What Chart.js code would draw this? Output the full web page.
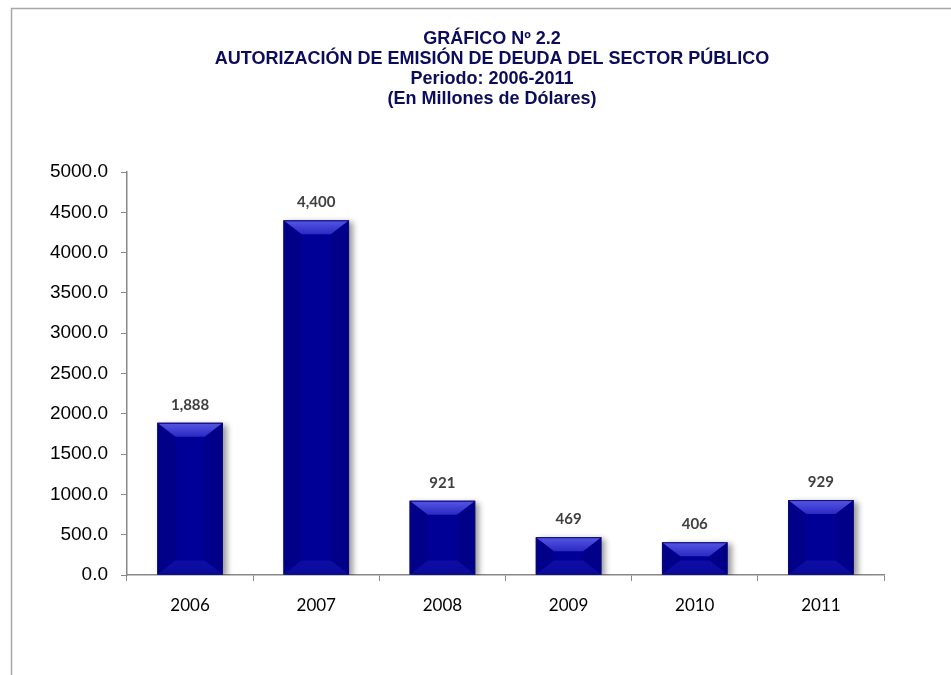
<!DOCTYPE html>
<html>
<head>
<meta charset="utf-8">
<script src="https://cdn.jsdelivr.net/npm/chart.js@4.4.1/dist/chart.umd.min.js"></script>
<style>
  html, body { margin: 0; padding: 0; background: #fff; }
  #wrap { width: 951px; height: 675px; position: relative; }
</style>
</head>
<body>
<div id="wrap"><canvas id="deuda"></canvas></div>
<script>
const years = ["2006", "2007", "2008", "2009", "2010", "2011"];
const amounts = [1888, 4400, 921, 469, 406, 929];
const titleLines = [
  "GRÁFICO Nº 2.2",
  "AUTORIZACIÓN DE EMISIÓN DE DEUDA DEL SECTOR PÚBLICO",
  "Periodo: 2006-2011",
  "(En Millones de Dólares)",
];
const yMin = 0;
const yMax = 5000;
const yStep = 500;

const deuda = document.getElementById("deuda");

// frame lines (top and left only, as in the original) + the title block
const framePlugin = {
  id: "frame",
  beforeDraw: function (chart) {
    const c = chart.ctx;
    c.save();
    c.strokeStyle = "#a6a6a6";
    c.lineWidth = 1.5;
    c.beginPath();
    c.moveTo(951, 8.5);
    c.lineTo(11.5, 8.5);
    c.lineTo(11.5, 675);
    c.stroke();

    c.fillStyle = "#0c0c5c";
    c.font = "bold 18px Arial, 'Liberation Sans', sans-serif";
    c.textAlign = "center";
    c.textBaseline = "middle";
    for (var i = 0; i < titleLines.length; i++) {
      c.fillText(titleLines[i], 492, 39 + i * 20);
    }
    c.restore();
  },
};

// shadow behind the bars
const shadowPlugin = {
  id: "barShadow",
  beforeDatasetDraw: function (chart) {
    const c = chart.ctx;
    c.save();
    c.shadowColor = "rgba(0,0,0,0.4)";
    c.shadowBlur = 6;
    c.shadowOffsetX = 4;
    c.shadowOffsetY = 2;
  },
  afterDatasetDraw: function (chart) {
    chart.ctx.restore();
  },
};

// bevel on top and bottom of each bar + value labels
const bevelPlugin = {
  id: "bevel",
  afterDatasetsDraw: function (chart) {
    const c = chart.ctx;
    const meta = chart.getDatasetMeta(0);
    meta.data.forEach(function (bar, i) {
      const left = bar.x - bar.width / 2;
      const right = bar.x + bar.width / 2;
      const top = bar.y;
      const bottom = bar.base;
      const h = bottom - top;
      const b = Math.min(14, h / 2);
      const s = b * 1.3;

      // top bevel
      let g = c.createLinearGradient(0, top, 0, top + b);
      g.addColorStop(0, "#5656e4");
      g.addColorStop(1, "#2a2ac4");
      c.fillStyle = g;
      c.beginPath();
      c.moveTo(left, top);
      c.lineTo(right, top);
      c.lineTo(right - s, top + b);
      c.lineTo(left + s, top + b);
      c.closePath();
      c.fill();

      // side bevels
      c.fillStyle = "rgba(0,0,60,0.15)";
      c.beginPath();
      c.moveTo(left, top);
      c.lineTo(left + s, top + b);
      c.lineTo(left + s, bottom - b);
      c.lineTo(left, bottom);
      c.closePath();
      c.fill();
      c.beginPath();
      c.moveTo(right, top);
      c.lineTo(right - s, top + b);
      c.lineTo(right - s, bottom - b);
      c.lineTo(right, bottom);
      c.closePath();
      c.fill();

      // bottom bevel
      g = c.createLinearGradient(0, bottom - b, 0, bottom);
      g.addColorStop(0, "#0e0ea6");
      g.addColorStop(1, "#0a0a9c");
      c.fillStyle = g;
      c.beginPath();
      c.moveTo(left, bottom);
      c.lineTo(right, bottom);
      c.lineTo(right - s, bottom - b);
      c.lineTo(left + s, bottom - b);
      c.closePath();
      c.fill();

      // thin outline
      c.strokeStyle = "#0a0a70";
      c.lineWidth = 1;
      c.strokeRect(left + 0.5, top + 0.5, bar.width - 1, h - 1);

      // value label
      c.fillStyle = "#404040";
      c.font = "bold 15px Lato, 'Open Sans', sans-serif";
      c.textAlign = "center";
      c.textBaseline = "middle";
      c.fillText(amounts[i].toLocaleString("en-US"), bar.x, top - 18);
    });
  },
};

new Chart(deuda, {
  type: "bar",
  data: {
    labels: years,
    datasets: [
      {
        label: "Autorización",
        data: amounts,
        backgroundColor: function (context) {
          const area = context.chart.chartArea;
          if (!area) {
            return "#00008b";
          }
          const el = context.element;
          if (!el || el.x === undefined) {
            return "#000096";
          }
          const w = el.width || 66;
          const gr = context.chart.ctx.createLinearGradient(el.x - w / 2, 0, el.x + w / 2, 0);
          gr.addColorStop(0, "#000078");
          gr.addColorStop(0.5, "#00009c");
          gr.addColorStop(1, "#000078");
          return gr;
        },
        borderWidth: 0,
        barPercentage: 0.52,
        categoryPercentage: 1,
      },
    ],
  },
  options: {
    responsive: true,
    maintainAspectRatio: false,
    animation: false,
    events: [],
    layout: {
      padding: { left: 0, right: 67, top: 172, bottom: 0 },
    },
    plugins: {
      legend: { display: false },
      tooltip: { enabled: false },
      title: { display: false },
    },
    scales: {
      x: {
        afterFit: function (scale) {
          scale.height = 100;
        },
        grid: {
          offset: true,
          drawOnChartArea: false,
          drawTicks: true,
          tickLength: 6,
          color: "#888888",
        },
        border: { color: "#888888", width: 1.5 },
        ticks: {
          color: "#000000",
          padding: 14,
          font: { family: "Lato, 'Open Sans', sans-serif", size: 17 },
        },
      },
      y: {
        min: yMin,
        max: yMax,
        afterFit: function (scale) {
          scale.width = 127;
        },
        grid: {
          drawOnChartArea: false,
          drawTicks: true,
          tickLength: 6,
          color: "#888888",
        },
        border: { color: "#888888", width: 1.5 },
        ticks: {
          stepSize: yStep,
          color: "#000000",
          padding: 13,
          font: { family: "Arial, 'Liberation Sans', sans-serif", size: 19 },
          callback: function (value) {
            return Number(value).toFixed(1);
          },
        },
      },
    },
  },
  plugins: [framePlugin, shadowPlugin, bevelPlugin],
});
</script>
</body>
</html>
